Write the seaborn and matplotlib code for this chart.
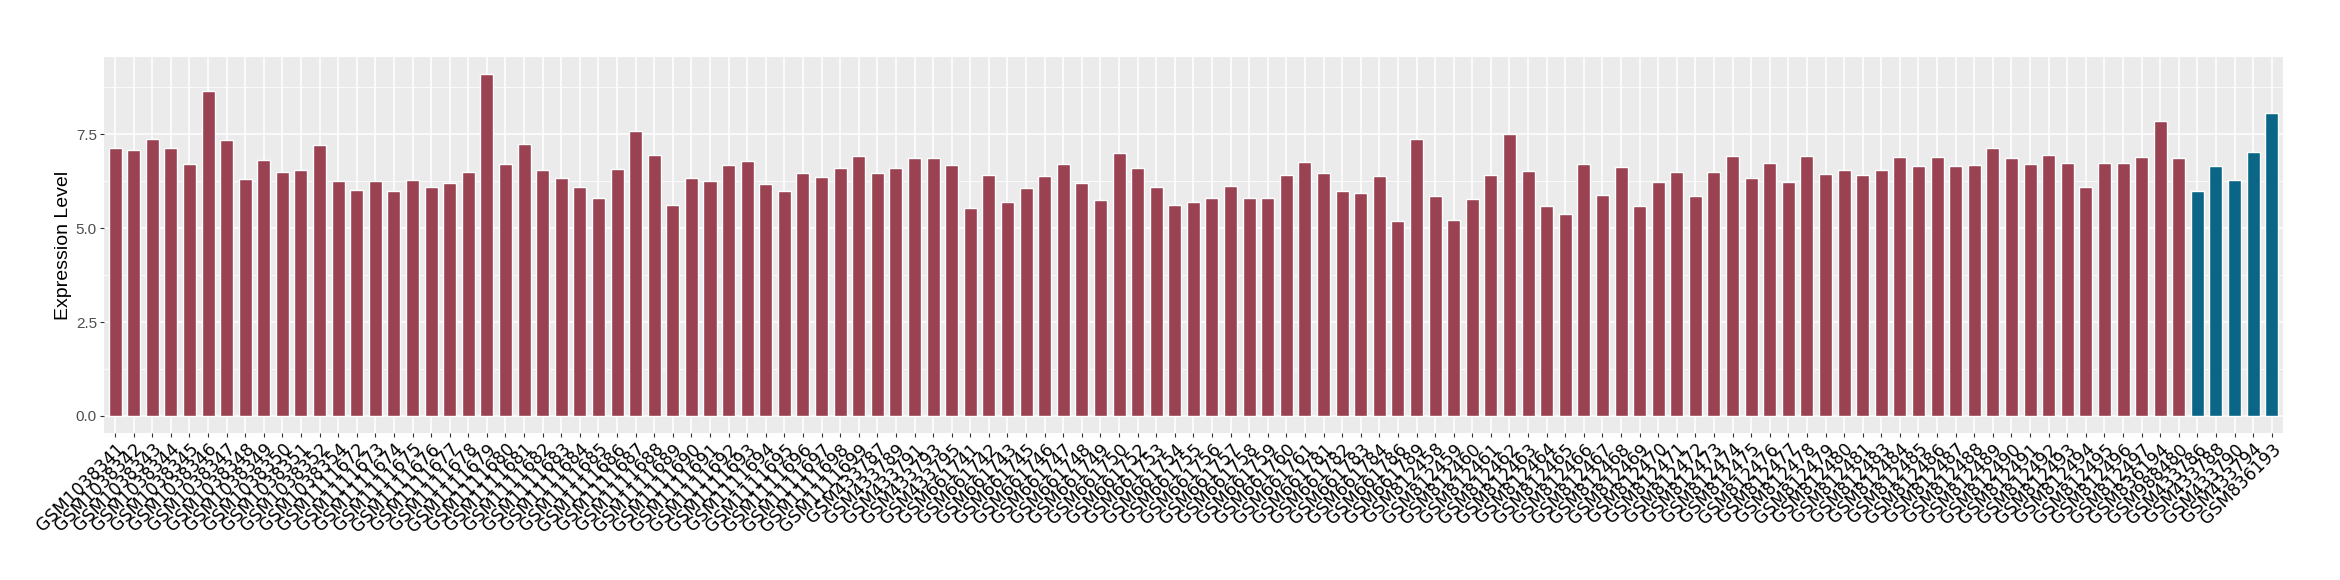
import pandas as pd
import matplotlib.pyplot as plt
import seaborn as sns
from matplotlib.ticker import MultipleLocator

# Образцы и уровни экспрессии
gse1_samples = ['GSM1038341', 'GSM1038342', 'GSM1038343', 'GSM1038344', 'GSM1038345',
                'GSM1038346', 'GSM1038347', 'GSM1038348', 'GSM1038349', 'GSM1038350',
                'GSM1038351', 'GSM1038352', 'GSM1038354']
gse1_values = [7.14, 7.08, 7.38, 7.14, 6.71, 8.65, 7.35, 6.31, 6.82, 6.50, 6.55, 7.22, 6.26]

gse2_samples = ['GSM11116%02d' % i for i in range(72, 100)]
gse2_values = [6.02, 6.26, 5.99, 6.29, 6.10, 6.21, 6.50, 9.10, 6.71, 7.24,
               6.55, 6.34, 6.10, 5.81, 6.58, 7.59, 6.95, 5.62, 6.34, 6.26,
               6.68, 6.79, 6.18, 5.99, 6.47, 6.37, 6.60, 6.92]

gse3_samples = ['GSM433787', 'GSM433789', 'GSM433791', 'GSM433793', 'GSM433795']
gse3_values = [6.47, 6.60, 6.87, 6.87, 6.68]

gse4_samples = ['GSM661741', 'GSM661742', 'GSM661743', 'GSM661745', 'GSM661746',
                'GSM661747', 'GSM661748', 'GSM661749', 'GSM661750', 'GSM661752',
                'GSM661753', 'GSM661754', 'GSM661755', 'GSM661756', 'GSM661757',
                'GSM661758', 'GSM661759', 'GSM661760', 'GSM661761', 'GSM661781',
                'GSM661782', 'GSM661783', 'GSM661784', 'GSM661786', 'GSM661789']
gse4_values = [5.54, 6.42, 5.70, 6.07, 6.39, 6.71, 6.21, 5.75, 7.00, 6.60,
               6.10, 5.62, 5.70, 5.81, 6.13, 5.81, 5.81, 6.42, 6.76, 6.47,
               5.99, 5.94, 6.39, 5.20, 7.38]

gse5_samples = ['GSM812%d' % i for i in range(458, 498) if i != 482]
gse5_values = [5.86, 5.22, 5.78, 6.42, 7.51, 6.52, 5.59, 5.38, 6.71, 5.89,
               6.63, 5.59, 6.23, 6.50, 5.86, 6.50, 6.92, 6.34, 6.74, 6.23,
               6.92, 6.45, 6.55, 6.42, 6.55, 6.90, 6.66, 6.90, 6.66, 6.68,
               7.14, 6.87, 6.71, 6.95, 6.74, 6.10, 6.74, 6.74, 6.90]

gse6_samples = ['GSM836194', 'GSM988480']
gse6_values = [7.85, 6.87]

# Вторая группа (синие столбцы)
blue_samples = ['GSM433786', 'GSM433788', 'GSM433790', 'GSM433794', 'GSM836193']
blue_values = [5.99, 6.66, 6.29, 7.03, 8.07]

red_samples = gse1_samples + gse2_samples + gse3_samples + gse4_samples + gse5_samples + gse6_samples
red_values = gse1_values + gse2_values + gse3_values + gse4_values + gse5_values + gse6_values

df = pd.DataFrame({
    'sample': red_samples + blue_samples,
    'value': red_values + blue_values,
    'group': ['control'] * len(red_samples) + ['case'] * len(blue_samples),
})

sns.set_theme(style='darkgrid', rc={
    'axes.facecolor': '#EBEBEB',
    'grid.color': 'white',
    'axes.edgecolor': '#EBEBEB',
})
plt.rcParams['font.family'] = ['Liberation Sans', 'DejaVu Sans']

fig = plt.figure(figsize=(23.4, 5.8), dpi=100)
ax = fig.add_axes([0.0444, 0.2534, 0.9312, 0.6483])

sns.barplot(data=df, x='sample', y='value', hue='group', order=df['sample'],
            palette={'control': '#9A4252', 'case': '#0B6586'},
            dodge=False, width=0.7, legend=False, saturation=1, ax=ax)

ax.set_xlim(-0.6, len(df) - 0.4)
ax.set_ylim(-0.455, 9.555)
ax.yaxis.set_major_locator(MultipleLocator(2.5))
ax.yaxis.set_minor_locator(MultipleLocator(1.25))
ax.set_yticklabels([f'{t:.1f}' for t in ax.get_yticks()])
ax.set_axisbelow(True)
ax.grid(which='major', color='white', linewidth=1.1)
ax.grid(which='minor', axis='y', color='white', linewidth=0.55)
for s in ax.spines.values():
    s.set_visible(False)

ax.tick_params(axis='both', which='major', length=3, width=0.8, color='#333333',
               bottom=True, left=True, pad=2)
ax.tick_params(axis='y', which='minor', length=0)
ax.tick_params(axis='y', labelsize=11, labelcolor='#4D4D4D')
plt.setp(ax.get_xticklabels(), rotation=45, ha='right', va='top',
         rotation_mode='anchor', fontsize=12.5, color='black', family='DejaVu Sans')

ax.set_xlabel('')
ax.set_ylabel('Expression Level', fontsize=14, color='black', labelpad=3)

plt.savefig('out.png', dpi=100)
